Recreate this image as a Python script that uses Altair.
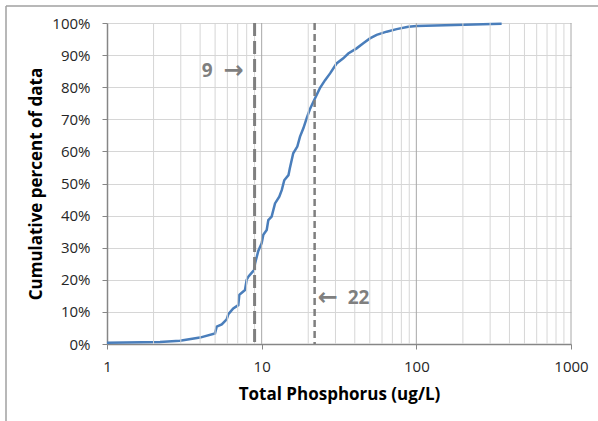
import altair as alt
import pandas as pd

# Cumulative distribution of total phosphorus samples
tp_ugL = [1.0, 2.2, 2.96, 3.99, 4.99, 5.12, 5.52, 5.94, 6.09, 6.55, 7.06, 7.17,
          7.8, 8.0, 8.2, 8.92, 9.05, 9.51, 10.0, 10.25, 10.78, 11.04, 11.6, 12.2,
          13.0, 13.5, 14.0, 14.9, 15.2, 16.0, 17.0, 17.7, 18.6, 19.6, 20.5, 22.1,
          23.8, 25.7, 27.7, 30.5, 33.7, 36.3, 41.1, 45.4, 50.1, 55.4, 64.3, 74.6,
          88.7, 100.5, 356.0]
cum_pct = [0.4, 0.6, 1.0, 2.0, 3.3, 5.4, 6.1, 7.7, 9.3, 11.1, 12.1, 15.3,
           16.8, 20.0, 21.0, 23.0, 25.0, 29.0, 31.4, 34.0, 35.5, 38.6, 39.7, 43.8,
           45.9, 48.0, 51.0, 52.6, 54.7, 59.4, 61.5, 64.6, 67.2, 70.5, 73.1, 76.5,
           79.7, 82.2, 84.3, 87.4, 89.0, 90.5, 92.1, 93.7, 95.2, 96.3, 97.3, 98.1,
           98.8, 99.1, 99.8]

minor_grid = [2, 3, 4, 5, 6, 7, 8, 9, 20, 30, 40, 50, 60, 70, 80, 90,
              200, 300, 400, 500, 600, 700, 800, 900]
decade_grid = [10, 100, 1000]
x_ticks = [1, 10, 100, 1000]
pct_ticks = [0, 10, 20, 30, 40, 50, 60, 70, 80, 90, 100]

ref_values = [9, 22]
ref_numbers = ["9", "22"]
ref_arrows = ["\u2192", "\u2190"]
ref_label_pct = [85, 14.3]

FONT = "Open Sans"
GREY = "#7f7f7f"

x_scale = alt.Scale(type="log", domain=[1, 1000], nice=False)
y_scale = alt.Scale(domain=[0, 100], nice=False)

curve_df = pd.DataFrame({"tp": tp_ugL, "pct": cum_pct})

x_axis = alt.Axis(title="Total Phosphorus (ug/L)", values=x_ticks,
                  format="d", grid=False, tickSize=5, labelFlush=False,
                  labelPadding=10, titlePadding=12)
y_axis = alt.Axis(title="Cumulative percent of data", values=pct_ticks,
                  labelExpr="datum.value + '%'", grid=True,
                  gridColor="#d6d6d6", tickSize=5, labelFlush=False,
                  labelPadding=12, titlePadding=6)

curve = alt.Chart(curve_df).mark_line(
    color="#4a7ebb", strokeWidth=2.5, interpolate="linear"
).encode(
    x=alt.X("tp:Q", scale=x_scale, axis=x_axis),
    y=alt.Y("pct:Q", scale=y_scale, axis=y_axis),
)

minor = alt.Chart(pd.DataFrame({"tp": minor_grid})).mark_rule(
    color="#d6d6d6", strokeWidth=1
).encode(x=alt.X("tp:Q", scale=x_scale, axis=x_axis))

major = alt.Chart(pd.DataFrame({"tp": decade_grid})).mark_rule(
    color="#a8a8a8", strokeWidth=1
).encode(x=alt.X("tp:Q", scale=x_scale, axis=x_axis))

dash9 = alt.Chart(pd.DataFrame({"tp": [ref_values[0]]})).mark_rule(
    color=GREY, strokeWidth=3, strokeDash=[13, 5]
).encode(x=alt.X("tp:Q", scale=x_scale, axis=x_axis))

dash22 = alt.Chart(pd.DataFrame({"tp": [ref_values[1]]})).mark_rule(
    color=GREY, strokeWidth=2.5, strokeDash=[7, 4]
).encode(x=alt.X("tp:Q", scale=x_scale, axis=x_axis))

lab_df = pd.DataFrame({"tp": ref_values, "pct": ref_label_pct,
                       "num": ref_numbers, "arrow": ref_arrows})


def ref_text(row, field, font, size, align, dx):
    return alt.Chart(lab_df.iloc[[row]]).mark_text(
        font=font, fontSize=size, fontWeight="bold", color=GREY,
        align=align, baseline="middle", dx=dx
    ).encode(x=alt.X("tp:Q", scale=x_scale, axis=x_axis),
             y=alt.Y("pct:Q", scale=y_scale, axis=y_axis),
             text=f"{field}:N")


num9 = ref_text(0, "num", FONT, 19, "right", -42)
arr9 = ref_text(0, "arrow", "DejaVu Sans", 24, "right", -11)
arr22 = ref_text(1, "arrow", "DejaVu Sans", 24, "left", 3)
num22 = ref_text(1, "num", FONT, 19, "left", 33)

# outer chart border (top and left edges)
frame_top = alt.Chart(pd.DataFrame({"a": [0]})).mark_rule(
    color="#a0a0a0", strokeWidth=1.5
).encode(x=alt.value(-101), x2=alt.value(491), y=alt.value(-17))
frame_left = alt.Chart(pd.DataFrame({"a": [0]})).mark_rule(
    color="#a0a0a0", strokeWidth=1.5
).encode(x=alt.value(-101), y=alt.value(-17), y2=alt.value(398))

chart = alt.layer(
    curve, minor, major, dash9, dash22, num9, arr9, arr22, num22,
    frame_top, frame_left
).properties(
    width=464, height=321,
    autosize=alt.AutoSizeParams(type="none"),
    padding={"left": 107, "top": 23, "right": 27, "bottom": 77},
).configure(background="white").configure_view(stroke=None).configure_axis(
    labelFont=FONT, titleFont=FONT, labelFontSize=15, titleFontSize=17,
    labelColor="#262626", titleColor="#000000", titleFontWeight="bold",
    domainColor="#868686", tickColor="#868686", domainWidth=1.5,
)

chart.save("out.html", embed_options={"renderer": "svg", "actions": False})
